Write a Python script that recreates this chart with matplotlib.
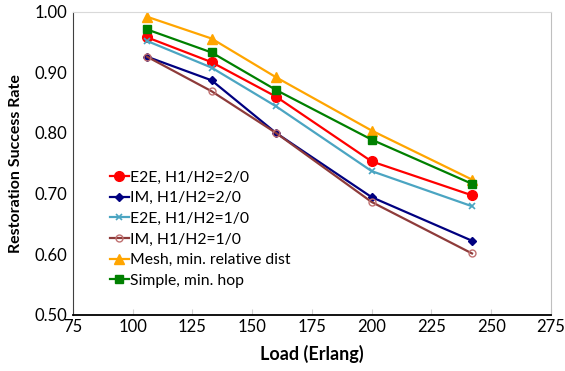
import matplotlib.pyplot as plt
from matplotlib.ticker import FormatStrFormatter

plt.rcParams['font.family'] = ['Lato', 'DejaVu Sans']

load = [106, 133, 160, 200, 242]
e2e_20 = [0.958, 0.917, 0.860, 0.753, 0.697]
im_20 = [0.926, 0.887, 0.800, 0.694, 0.622]
e2e_10 = [0.952, 0.908, 0.844, 0.737, 0.679]
im_10 = [0.926, 0.869, 0.800, 0.686, 0.601]
mesh = [0.992, 0.956, 0.892, 0.804, 0.723]
simple = [0.971, 0.933, 0.871, 0.789, 0.716]
names = ['E2E, H1/H2=2/0', 'IM, H1/H2=2/0', 'E2E, H1/H2=1/0',
         'IM, H1/H2=1/0', 'Mesh, min. relative dist', 'Simple, min. hop']

fig = plt.figure(figsize=(5.65, 3.71), dpi=100)
ax = fig.add_axes([0.129, 0.152, 0.846, 0.816])

ax.plot(load, e2e_20, color='#FF0000', marker='o', ms=7, lw=1.6, label=names[0])
ax.plot(load, im_20, color='#000080', marker='D', ms=4, lw=1.6, label=names[1])
ax.plot(load, e2e_10, color='#4BA5C2', marker='x', ms=5, mew=1.2, lw=1.6, label=names[2])
ax.plot(load, im_10, color='#8E3B3A', marker='o', ms=5, mfc='none', mec='#C07070', lw=1.6, label=names[3])
ax.plot(load, mesh, color='#FFA500', marker='^', ms=7, lw=1.6, label=names[4])
ax.plot(load, simple, color='#008000', marker='s', ms=6, lw=1.6, label=names[5])

ax.set_xlim(75, 275)
ax.set_ylim(0.5, 1.0)
ax.set_xticks(range(75, 276, 25))
ax.set_yticks([0.5, 0.6, 0.7, 0.8, 0.9, 1.0])
ax.yaxis.set_major_formatter(FormatStrFormatter('%.2f'))
ax.tick_params(axis='x', direction='in', length=4, color='#D0D0D0', labelsize=12, pad=3)
ax.tick_params(axis='y', length=0, labelsize=12, pad=4)

ax.spines['left'].set_color('#404040')
ax.spines['bottom'].set_color('black')
ax.spines['bottom'].set_linewidth(1.3)
ax.spines['top'].set_color('#D9D9D9')
ax.spines['right'].set_color('#BFBFBF')

ax.set_xlabel('Load (Erlang)', fontsize=13, fontweight='bold', labelpad=7)
ax.set_ylabel('Restoration Success Rate', fontsize=11.5, fontweight='bold', labelpad=8)

ax.legend(loc='lower left', bbox_to_anchor=(0.064, 0.068), frameon=False, fontsize=11.3,
          handlelength=1.2, handletextpad=0.1, labelspacing=0.42, borderaxespad=0)

fig.savefig('out.png', dpi=100)
